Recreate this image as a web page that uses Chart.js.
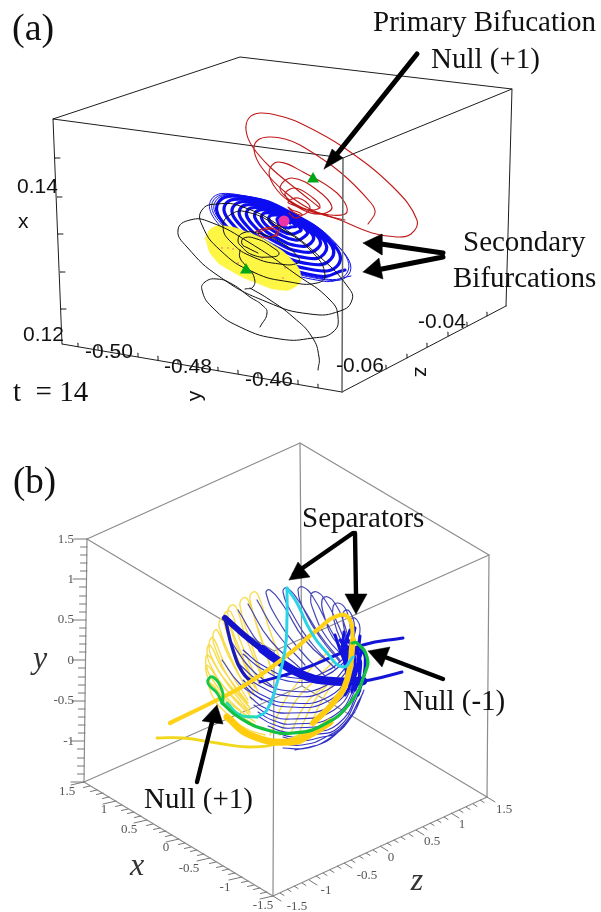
<!DOCTYPE html>
<html lang="en">
<head>
<meta charset="UTF-8">
<title>Null bifurcations</title>
<script src="https://cdn.jsdelivr.net/npm/chart.js@4/dist/chart.umd.min.js"></script>
<style>
  html, body { margin: 0; padding: 0; background: #fff; }
  canvas { display: block; }
  #panelB { filter: blur(0.35px); }
</style>
</head>
<body>
<canvas id="panelA" width="601" height="432"></canvas>
<canvas id="panelB" width="601" height="480"></canvas>
<script>
const aBoxTop = [[53,119],[240,57],[512,89],[343,158],[53,119]];
const aBoxFront = [[343,158],[342,392]];
const aBoxRest = [
  [[53,119],[62,344]],
  [[62,344],[342,392]],
  [[342,392],[506,306]],
  [[506,306],[512,89]]
];
const aTicksLeft = [[55,158],[57,197],[58,234],[60,272],[61,309]];
const aTicksBottom = [[78,347],[98,350],[118,354],[138,357],[158,360],[178,364],[198,367],[218,371],[238,374],[258,378],[278,381],[298,384],[318,388]];
const aTicksDepth = [[386,369],[407,358],[427,347],[448,336],[467,326],[487,316]];

const aBlueOuter = [
  [351,276],[322,281],[268,262],[222,228],[211,200],[240,195],[294,214],[340,248],
  [349,274],[320,279],[269,260],[225,228],[213,201],[242,196],[293,215],[338,246],
  [347,273],[319,278],[269,259],[227,228],[215,202],[243,196],[293,214],[336,245]
];
const aBlueInner = [
  [345,270],[318,276],[270,258],[228,228],[218,203],[245,197],[293,214],[334,245],
  [338,265],[314,270],[271,254],[235,227],[225,205],[249,200],[292,215],[329,242],
  [331,259],[310,264],[273,250],[241,226],[233,207],[254,202],[291,216],[323,239],
  [324,254],[307,258],[274,246],[247,226],[240,209],[258,205],[290,216],[318,237],
  [318,248],[303,252],[276,242],[253,225],[247,211],[262,208],[289,217],[312,234],
  [311,243],[299,246],[277,238],[259,224],[255,213],[267,210],[288,218],[307,231],
  [304,237],[295,240],[279,234],[265,224],[262,215],[271,213],[287,218],[301,229],
  [298,232],[291,234],[280,230],[271,223],[269,217],[276,215],[287,219],[296,226],
  [291,227],[288,228],[282,226],[278,222],[277,219],[280,218],[285,220],[290,223]
];
const aYellowDisc = [[205,238],[212,228],[225,226],[247,232],[270,243],[292,260],[301,277],[295,287],[280,290],[257,283],[233,272],[213,257],[205,238]];
const aPinkSpecks = [[222,248],[228,248],[233,249],[238,263],[253,272],[285,268],[283,278],[262,258]];
const aRedSpiral = [
  [289,213],[295,218],[302,215],[298,212],[292,210],[288,207],[293,212],[303,215],[310,207],[298,198],[288,202],[293,205],
  [310,210],[320,207],[313,198],[295,188],[285,195],[303,210],[322,214],[332,207],[317,190],[292,178],[280,187],[287,198],
  [303,208],[330,215],[347,212],[337,193],[303,172],[278,162],[269,172],[277,190],[295,205],[320,214],[345,220]
];
const aRedOuter = [
  [368,224],[375,213],[371,203],[340,172],[300,145],[285,139],[270,137],[258,140],[254,150],[262,168],[285,192],[310,209],[340,220],[372,233],
  [397,237],[411,234],[417,220],[393,187],[343,147],[300,123],[280,116],[260,113],[249,118],[246,130],[252,146],[270,167],[295,188],[320,208]
];
const aRedKnot = [[255,232],[262,229],[272,227],[280,226],[277,233],[268,238],[258,234],[265,230],[275,229],[278,235],[270,237]];
const aBlackSpiral = [
  [258,253],[248,248],[242,244],[244,238],[257,239],[272,247],[279,254],[270,257],[253,255],[242,247],[238,240],[243,233],
  [257,233],[280,242],[298,257],[298,263],[280,264],[253,257],[232,243],[223,227],[230,215],[247,212],[280,228],[313,253],
  [325,275],[317,283],[290,282],[253,272],[220,250],[202,225],[202,210],[217,204],[243,207],[283,228],[320,257],[348,287],
  [352,300],[340,311],[310,314],[267,302],[220,277],[187,247],[178,230],[190,220],[210,222],[250,243],[297,275],[330,300],
  [338,317],[333,332],[313,338],[280,339],[240,327],[212,307],[202,290],[205,282],[217,279],[232,284],[250,297],[262,305],
  [267,313],[260,327]
];
const aBlackTail = [[250,288],[270,300],[293,317],[312,337],[319,357],[318,370]];
const aBlackWiggle = [[240,250],[240,258],[247,267],[254,277],[253,287],[245,289]];
const aNullsGreen = [[313,179],[246,270]];
const aNullPink = [[284,221]];

const aArrowShafts = [
  [[417,54],[337,154]],
  [[443,253],[381,244]],
  [[443,257],[382,269]]
];
const aArrowHeads = [
  [[324,169],[332,149],[343,158],[324,169]],
  [[363,243],[382,234],[382,255],[363,243]],
  [[363,272],[379,258],[383,279],[363,272]]
];

const aTitles = ['(a)'];
const aTitlesAt = [[12,40]];
const aNotes = ['Primary Bifucation','Null (+1)','Secondary','Bifurcations','t  = 14'];
const aNotesAt = [[373,31],[431,68],[463,251],[453,287],[13,401]];
const aTickText = ['0.14','x','0.12','-0.50','-0.48','-0.46','-0.06','-0.04'];
const aTickTextAt = [[17,193],[18,228],[23,341],[85,358],[164,373],[245,386],[336,372],[418,328]];
const aTurned = ['y','z'];
const aTurnedAt = [[195,396],[421,372]];

// panel (b)
const bBoxBack = [[87,539],[300,443],[489,555],[487,797],[273,896],[84,782],[87,539]];
const bBoxInner = [
  [[87,539],[274,651],[489,555]],
  [[300,443],[302,686]],
  [[84,782],[302,686],[487,797]],
  [[274,651],[273,896]]
];
const bTicksY = [[87,539],[87,547],[87,555],[87,563],[87,571],[86,579],[86,587],[86,596],[86,604],[86,612],[86,620],[86,628],[86,636],[86,644],[86,652],[85,660],[85,668],[85,677],[85,685],[85,693],[85,701],[85,709],[85,717],[85,725],[85,733],[84,741],[84,749],[84,758],[84,766],[84,774],[84,782]];
const bTicksX = [[84,782],[90,786],[97,790],[103,793],[109,797],[116,801],[122,805],[128,809],[134,812],[141,816],[147,820],[153,824],[160,828],[166,831],[172,835],[179,839],[185,843],[191,847],[197,850],[204,854],[210,858],[216,862],[223,866],[229,869],[235,873],[242,877],[248,881],[254,885],[260,888],[267,892],[273,896]];
const bTicksZ = [[273,896],[280,893],[287,889],[294,886],[302,883],[309,880],[316,876],[323,873],[330,870],[337,866],[344,863],[351,860],[359,856],[366,853],[373,850],[380,846],[387,843],[394,840],[401,837],[409,834],[416,830],[423,827],[430,823],[437,820],[444,817],[451,813],[459,810],[466,807],[473,804],[480,800],[487,797]];

const bYellowThin = [
  [[283,668],[268,625],[258,595],[253,592],[250,600],[262,640],[275,680]],
  [[272,672],[258,630],[248,600],[243,598],[240,606],[250,640],[266,685]],
  [[263,680],[245,635],[236,607],[230,606],[228,616],[240,650],[258,692]],
  [[259,684],[240,640],[231,612],[225,613],[224,623],[236,655],[255,696]],
  [[255,688],[236,645],[226,618],[220,620],[220,630],[232,660],[252,700]],
  [[250,695],[228,655],[217,630],[213,635],[216,650],[230,680],[250,708]],
  [[248,700],[224,662],[213,638],[209,644],[213,660],[229,686],[250,712]],
  [[248,703],[222,668],[210,645],[207,652],[212,668],[228,692],[250,716]],
  [[250,708],[222,676],[208,655],[206,664],[214,682],[231,702],[252,720]],
  [[250,713],[222,685],[207,665],[207,675],[218,695],[235,712],[255,725]],
  [[255,722],[226,700],[210,683],[212,695],[225,712],[245,728],[265,735]],
  [[270,735],[285,700],[305,675],[330,650]],
  [[280,735],[295,702],[315,680],[335,660]],
  [[290,735],[305,705],[325,685]],
  [[300,730],[315,700],[332,680]],
  [[310,725],[325,695],[340,675]]
];
const bBlueHairpins = [
  [[335,668],[305,640],[283,605],[270,590],[266,593],[278,620],[300,650],[325,676]],
  [[340,660],[320,635],[298,600],[287,588],[283,592],[293,615],[313,645],[335,668]],
  [[345,655],[328,625],[313,597],[303,587],[298,590],[305,612],[322,640],[340,662]],
  [[348,650],[336,620],[325,600],[317,592],[311,595],[314,612],[327,638],[345,658]],
  [[350,645],[343,620],[336,605],[328,597],[322,600],[324,615],[333,638],[348,652]],
  [[352,640],[349,620],[345,608],[338,603],[333,607],[334,620],[340,638],[349,650]],
  [[354,640],[354,622],[350,612],[346,610],[343,614],[344,628],[348,642]],
  [[358,642],[360,628],[357,620],[352,618],[351,625],[352,638],[351,652]],
  [[238,610],[262,647],[293,672]],
  [[248,604],[270,640],[300,668]],
  [[257,600],[276,632],[305,665]],
  [[230,640],[250,668],[272,686]],
  [[222,660],[240,684],[262,700]]
];
const bBlueArcs = [
  [[243,650],[262,665],[295,678],[325,672],[348,655]],
  [[243,654],[262,669],[295,682],[325,676],[348,659]],
  [[240,665],[258,680],[290,691],[325,686],[351,662]],
  [[241,670],[258,685],[290,696],[327,690],[352,665]],
  [[243,680],[258,693],[290,703],[330,696],[354,668]],
  [[243,684],[258,697],[290,707],[330,700],[354,672]],
  [[250,697],[265,708],[290,713],[333,705],[357,674]],
  [[254,705],[268,714],[291,719],[334,710],[358,677]],
  [[258,712],[272,720],[292,724],[335,715],[359,680]],
  [[258,716],[272,724],[292,728],[335,719],[359,684]],
  [[268,726],[285,732],[305,732],[338,724],[361,686]],
  [[275,732],[292,737],[312,735],[339,727],[361,690]],
  [[283,737],[300,741],[318,738],[340,730],[362,695]],
  [[283,744],[302,745],[324,738],[346,722],[363,693]],
  [[283,748],[305,748],[330,738],[352,716],[364,690]],
  [[295,750],[315,746],[335,735],[355,712]]
];
const bBlueFan = [
  [[348,640],[353,650],[355,665],[352,680]],
  [[345,645],[358,655],[360,672],[355,690]],
  [[346,655],[361,650],[365,668],[358,695]],
  [[342,650],[350,665],[350,685],[345,695]],
  [[340,640],[347,652],[346,668]],
  [[355,628],[352,645],[356,668]],
  [[350,630],[346,645],[349,660]],
  [[344,632],[343,650],[352,672]],
  [[360,636],[358,660],[361,684]],
  [[335,635],[342,655],[348,668]],
  [[347,636],[344,655],[347,675]],
  [[354,640],[352,660],[349,682]],
  [[362,650],[356,672],[352,692]]
];
const bBandWide = [[225,618],[250,640],[277,660]];
const bBandMid = [[262,649],[277,660],[303,675],[330,681],[363,681]];
const bBandThin = [[225,618],[233,650],[243,673],[252,682]];
const bRodUpper = [[260,682],[300,670],[363,645],[403,638]];
const bRodLower = [[350,682],[370,680],[402,672]];
const bGoldLong = [[170,723],[217,700],[250,682],[290,653],[317,630],[340,615],[350,620],[353,640]];
const bGoldRight = [[353,640],[347,680],[333,703],[313,723]];
const bGoldLower = [[227,717],[250,735],[290,742],[313,733],[330,722]];
const bGoldTail = [[157,738],[183,738],[217,743],[250,747],[283,742],[310,730]];
const bGreenLoop = [[222,703],[217,693],[209,685],[208,680],[213,677],[222,690],[223,702]];
const bGreenMain = [[222,703],[240,718],[267,730],[293,733],[323,725],[350,703],[365,673],[367,657],[357,643],[352,643]];
const bCyanDown = [[287,588],[287,617],[285,650],[277,683],[267,710],[257,717]];
const bTealEnd = [[257,717],[240,715],[227,703]];
const bCyanRight = [[287,588],[297,603],[310,630],[327,653],[343,667],[353,657]];

const bArrowShafts = [
  [[353,533],[294,574]],
  [[355,533],[356,595]],
  [[443,679],[385,657]],
  [[197,782],[212,722]]
];
const bArrowHeads = [
  [[289,580],[298,562],[310,577],[289,580]],
  [[356,614],[345,594],[367,594],[356,614]],
  [[368,651],[390,647],[382,667],[368,651]],
  [[217,705],[202,721],[223,724],[217,705]]
];

const bTitles = ['(b)'];
const bTitlesAt = [[13,493]];
const bNotes = ['Separators','Null (-1)','Null (+1)'];
const bNotesAt = [[302,527],[403,710],[144,808]];
const bYTicks = ['1.5','1','0.5','0','-0.5','-1'];
const bYTicksAt = [[74,543],[74,583],[74,623],[74,664],[74,704],[74,745]];
const bXTicks = ['1.5','1','0.5','0','-0.5','-1','-1.5'];
const bXTicksAt = [[67,795],[104,813],[129,833],[166,851],[189,872],[225,891],[263,909]];
const bZTicks = ['1.5','1','0.5','0','-0.5','-1','-1.5'];
const bZTicksAt = [[504,813],[462,828],[432,845],[391,861],[367,879],[326,894],[297,910]];
const bAxisNames = ['y','x','z'];
const bAxisNamesAt = [[40,668],[137,875],[417,890]];

const SERIF = '"Liberation Serif", serif';
const SANS = '"Liberation Sans", sans-serif';

function toPoints(list) {
  return list.map(p => ({x: p[0], y: p[1]}));
}

// several polylines in one dataset, null points keep them apart
function joinPaths(paths) {
  let out = [];
  paths.forEach(p => {
    out = out.concat(toPoints(p));
    out.push({x: null, y: null});
  });
  return out;
}

function tickMarks(list, major, dx, dy) {
  const paths = list.map((p, i) => {
    const k = i % major === 0 ? 1 : 0.5;
    return [p, [p[0] + dx * k, p[1] + dy * k]];
  });
  return joinPaths(paths);
}

function curve(data, color, width, tension) {
  return {
    data: data,
    showLine: true,
    borderColor: color,
    backgroundColor: color,
    borderWidth: width,
    borderCapStyle: 'round',
    borderJoinStyle: 'round',
    pointRadius: 0,
    tension: tension === undefined ? 0.5 : tension,
    fill: false
  };
}

function blob(list, color, tension) {
  const d = curve(toPoints(list), color, 0.5, tension || 0);
  d.fill = 'shape';
  return d;
}

function dots(list, color, style, radius) {
  return {
    data: toPoints(list),
    showLine: false,
    backgroundColor: color,
    borderWidth: 0,
    pointStyle: style,
    pointRadius: radius
  };
}

function textLayer(groups) {
  return {
    id: 'textLayer',
    afterDraw(chart) {
      const ctx = chart.ctx;
      const sx = chart.scales.x, sy = chart.scales.y;
      groups.forEach(g => {
        ctx.save();
        ctx.font = g.font;
        ctx.fillStyle = g.color;
        ctx.textAlign = g.align || 'left';
        ctx.textBaseline = g.baseline || 'alphabetic';
        g.text.forEach((t, i) => {
          const px = sx.getPixelForValue(g.at[i][0]);
          const py = sy.getPixelForValue(g.at[i][1]);
          ctx.save();
          ctx.translate(px, py);
          if (g.turn) ctx.rotate(g.turn);
          ctx.fillText(t, 0, 0);
          ctx.restore();
        });
        ctx.restore();
      });
    }
  };
}

function makePanel(id, top, bottom, backToFront, groups) {
  return new Chart(document.getElementById(id), {
    type: 'scatter',
    // chart.js paints the first dataset last
    data: {datasets: backToFront.slice().reverse()},
    options: {
      responsive: false,
      animation: false,
      events: [],
      layout: {padding: 0, autoPadding: false},
      scales: {
        x: {type: 'linear', min: 0, max: 601, display: false},
        y: {type: 'linear', min: top, max: bottom, reverse: true, display: false}
      },
      plugins: {legend: {display: false}, title: {display: false}, tooltip: {enabled: false}}
    },
    plugins: [textLayer(groups)]
  });
}

const INK = '#1c1c1c';
const aSets = [
  curve(toPoints(aBoxTop), INK, 1, 0),
  curve(joinPaths(aBoxRest), INK, 1, 0),
  curve(tickMarks(aTicksLeft, 1, 5, 0), INK, 1, 0),
  curve(tickMarks(aTicksBottom, 1, 0, -4), INK, 1, 0),
  curve(tickMarks(aTicksDepth, 1, 0, -4), INK, 1, 0),
  curve(toPoints(aBlueOuter), '#1414e6', 1),
  curve(toPoints(aBlueInner), '#0c0cf0', 3.2),
  blob(aYellowDisc, '#fdf644', 0.5),
  dots(aPinkSpecks, '#ee5a9a', 'circle', 0.8),
  curve(toPoints(aRedSpiral), '#c01818', 1.1, 0.4),
  curve(toPoints(aRedOuter), '#c01818', 1.1, 0.4),
  curve(toPoints(aRedKnot), '#c01818', 1.1, 0.4),
  curve(toPoints(aBoxFront), '#666666', 1.5, 0),
  curve(toPoints(aBlackSpiral), '#111111', 1),
  curve(toPoints(aBlackTail), '#111111', 1),
  curve(toPoints(aBlackWiggle), '#111111', 1),
  dots(aNullsGreen, '#00a818', 'triangle', 7),
  dots(aNullPink, '#f034a8', 'circle', 5.5),
  curve(joinPaths(aArrowShafts), '#000000', 5, 0)
].concat(aArrowHeads.map(h => blob(h, '#000000')));

makePanel('panelA', 0, 432, aSets, [
  {text: aTitles, at: aTitlesAt, font: '38px ' + SERIF, color: '#111'},
  {text: aNotes, at: aNotesAt, font: '29px ' + SERIF, color: '#111'},
  {text: aTickText, at: aTickTextAt, font: '21px ' + SANS, color: '#111'},
  {text: [aTurned[0]], at: [aTurnedAt[0]], font: '21px ' + SANS, color: '#111', align: 'center', baseline: 'middle', turn: -Math.PI / 2},
  {text: [aTurned[1]], at: [aTurnedAt[1]], font: '21px ' + SANS, color: '#111', align: 'center', baseline: 'middle', turn: Math.PI / 2}
]);

const GREY = '#8c8c8c';
const bSets = [
  curve(toPoints(bBoxBack), GREY, 1.2, 0),
  curve(joinPaths(bBoxInner), GREY, 1.2, 0),
  curve(tickMarks(bTicksY, 5, -13, 0), '#777777', 1, 0),
  curve(tickMarks(bTicksX, 5, -13, 3), '#777777', 1, 0),
  curve(tickMarks(bTicksZ, 5, 8, 5), '#777777', 1, 0),
  curve(joinPaths(bYellowThin), '#f8dc50', 1.4),
  curve(joinPaths(bBlueHairpins), '#4646b8', 1.2),
  curve(joinPaths(bBlueArcs), '#3232c4', 1.1),
  curve(joinPaths(bBlueFan), '#1414e0', 3),
  curve(toPoints(bBandWide), '#1212c8', 6),
  curve(toPoints(bBandMid), '#1212d8', 8.5),
  curve(toPoints(bBandThin), '#1a1ab8', 3.4),
  curve(toPoints(bRodUpper), '#1414d8', 3),
  curve(toPoints(bRodLower), '#1414d8', 3),
  curve(toPoints(bGoldTail), '#f2d81c', 2.8),
  curve(toPoints(bGoldLong), '#ffd21a', 4.2),
  curve(toPoints(bGoldRight), '#ffcc10', 6),
  curve(toPoints(bGoldLower), '#ffcc10', 7),
  curve(toPoints(bCyanDown), '#2ad4e6', 3),
  curve(toPoints(bTealEnd), '#22dcb4', 3),
  curve(toPoints(bCyanRight), '#2ad4e6', 3),
  curve(toPoints(bGreenMain), '#14c040', 3.2),
  curve(toPoints(bGreenLoop), '#14c848', 2.8),
  curve(joinPaths(bArrowShafts), '#000000', 4.4, 0)
].concat(bArrowHeads.map(h => blob(h, '#000000')));

makePanel('panelB', 432, 912, bSets, [
  {text: bTitles, at: bTitlesAt, font: '37px ' + SERIF, color: '#111'},
  {text: bNotes, at: bNotesAt, font: '29px ' + SERIF, color: '#111'},
  {text: bYTicks, at: bYTicksAt, font: '13px ' + SERIF, color: '#555', align: 'right'},
  {text: bXTicks, at: bXTicksAt, font: '13px ' + SERIF, color: '#555', align: 'center'},
  {text: bZTicks, at: bZTicksAt, font: '13px ' + SERIF, color: '#555', align: 'center'},
  {text: bAxisNames, at: bAxisNamesAt, font: 'italic 32px ' + SERIF, color: '#333', align: 'center'}
]);
</script>
</body>
</html>
